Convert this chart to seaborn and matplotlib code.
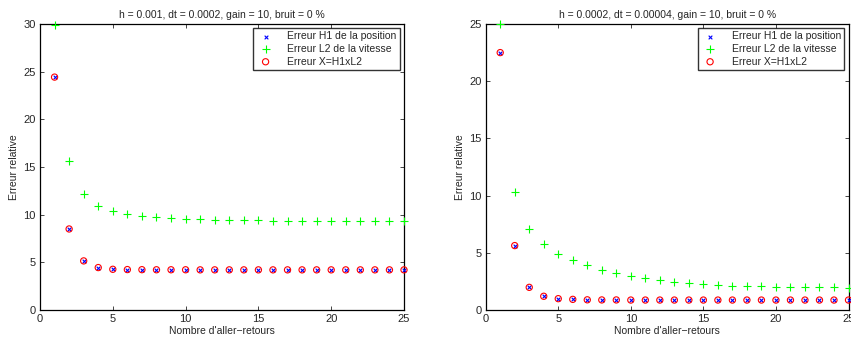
import numpy as np
import pandas as pd
import matplotlib
matplotlib.use("Agg")
import matplotlib.pyplot as plt
import seaborn as sns

sns.set_style("ticks")
plt.rcParams['font.family'] = ['Liberation Sans', 'DejaVu Sans']

iters = list(range(1, 26))

# Left panel: h = 0.001, dt = 0.0002
left_h1 = [24.43, 8.5, 5.15, 4.45, 4.27, 4.24, 4.23, 4.22, 4.22, 4.22, 4.21, 4.21, 4.21,
           4.21, 4.21, 4.21, 4.21, 4.21, 4.21, 4.21, 4.21, 4.21, 4.21, 4.21, 4.21]
left_l2 = [29.9, 15.65, 12.15, 10.92, 10.4, 10.08, 9.87, 9.77, 9.66, 9.59, 9.52, 9.49, 9.45,
           9.42, 9.4, 9.38, 9.37, 9.35, 9.34, 9.33, 9.33, 9.32, 9.32, 9.31, 9.31]
left_x = left_h1

# Right panel: h = 0.0002, dt = 0.00004
right_h1 = [22.5, 5.63, 1.98, 1.2, 0.99, 0.93, 0.89, 0.88, 0.88, 0.87, 0.87, 0.87, 0.87,
            0.87, 0.87, 0.87, 0.87, 0.87, 0.87, 0.87, 0.87, 0.87, 0.87, 0.87, 0.87]
right_l2 = [25.0, 10.35, 7.11, 5.74, 4.93, 4.34, 3.9, 3.53, 3.24, 2.97, 2.8, 2.62, 2.48,
            2.36, 2.27, 2.19, 2.13, 2.1, 2.07, 2.04, 2.02, 2.0, 1.98, 1.97, 1.96]
right_x = right_h1

titles = ["h = 0.001, dt = 0.0002, gain = 10, bruit = 0 %",
          "h = 0.0002, dt = 0.00004, gain = 10, bruit = 0 %"]
labels = ["Erreur H1 de la position", "Erreur L2 de la vitesse", "Erreur X=H1xL2"]
xlabel = "Nombre d'aller\u2212retours"
ylabel = "Erreur relative"

fig = plt.figure(figsize=(8.51, 3.43), dpi=100)
ax1 = fig.add_axes([40/851, 1-310/343, 364/851, 286/343])
ax2 = fig.add_axes([485.7/851, 1-310/343, 362.8/851, 286/343])

panels = [(ax1, left_h1, left_l2, left_x, 30, [0, 5, 10, 15, 20, 25, 30]),
          (ax2, right_h1, right_l2, right_x, 25, [0, 5, 10, 15, 20, 25])]

for i, (ax, h1, l2, xx, ymax, yticks) in enumerate(panels):
    df = pd.DataFrame({"n": iters, "h1": h1, "l2": l2, "x": xx})
    sns.scatterplot(data=df, x="n", y="h1", ax=ax, marker="x", color="blue",
                    s=7, linewidth=0.8, label=labels[0], clip_on=False, zorder=3)
    sns.scatterplot(data=df, x="n", y="l2", ax=ax, marker="+", color="#00ff00",
                    s=26, linewidth=0.8, label=labels[1], clip_on=False, zorder=3)
    sns.scatterplot(data=df, x="n", y="x", ax=ax, marker="o", facecolor="none",
                    edgecolor="red", s=20, linewidth=0.8, label=labels[2],
                    clip_on=False, zorder=3)
    ax.set_xlim(0, 25)
    ax.set_ylim(0, ymax)
    ax.set_xticks([0, 5, 10, 15, 20, 25])
    ax.set_yticks(yticks)
    ax.tick_params(direction="in", top=True, right=True, labelsize=8, length=3,
                   width=0.6, pad=3)
    for sp in ax.spines.values():
        sp.set_visible(True)
        sp.set_linewidth(0.9)
        sp.set_color("black")
    ax.set_title(titles[i], fontsize=7.5, pad=4)
    ax.set_xlabel(xlabel, fontsize=7.5, labelpad=1)
    ax.set_ylabel(ylabel, fontsize=7.5, labelpad=3)
    leg = ax.legend(loc="upper right", fontsize=7.5, frameon=True, fancybox=False,
                    borderaxespad=0.4, handletextpad=1.2, labelspacing=0.25,
                    borderpad=0.3, handlelength=1.8, markerscale=1.0)
    leg.get_frame().set_edgecolor("black")
    leg.get_frame().set_linewidth(1.0)

fig.savefig("out.png", dpi=100)
